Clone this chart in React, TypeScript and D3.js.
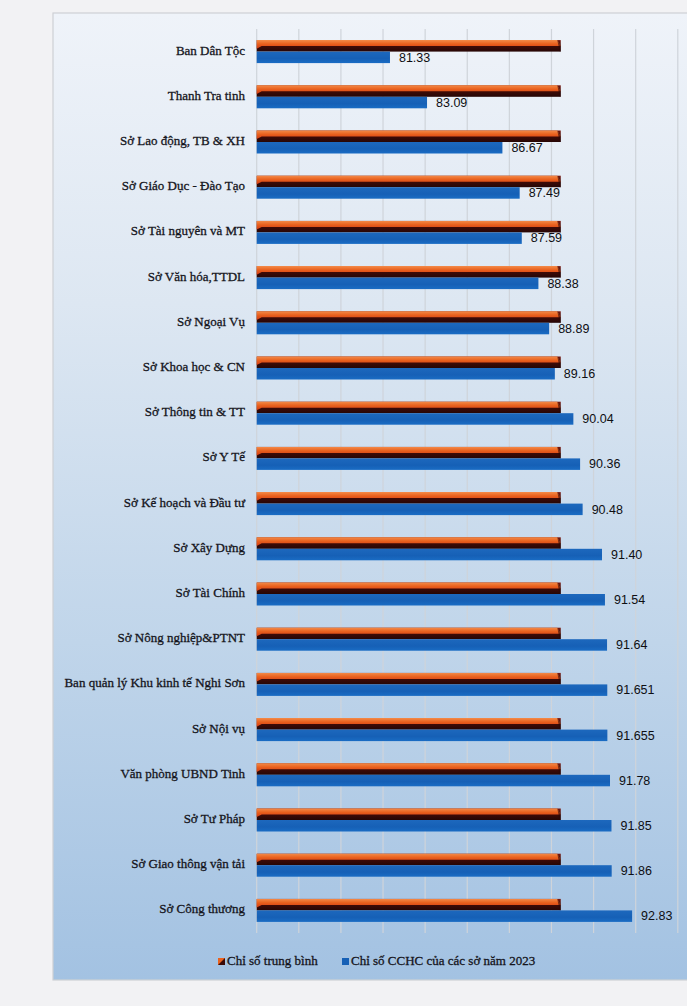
import React from "react";
import * as d3 from "d3";

const categories = [
  "Ban Dân Tộc",
  "Thanh Tra tinh",
  "Sở Lao động, TB & XH",
  "Sở Giáo Dục - Đào Tạo",
  "Sở Tài nguyên và MT",
  "Sở Văn hóa,TTDL",
  "Sở Ngoại Vụ",
  "Sở Khoa học & CN",
  "Sở Thông tin & TT",
  "Sở Y Tế",
  "Sở Kế hoạch và Đầu tư",
  "Sở Xây Dựng",
  "Sở Tài Chính",
  "Sở Nông nghiệp&PTNT",
  "Ban quản lý Khu kinh tế Nghi Sơn",
  "Sở Nội vụ",
  "Văn phòng UBND Tinh",
  "Sở Tư Pháp",
  "Sở Giao thông vận tải",
  "Sở Công thương",
];

const cchcValues = [
  81.33, 83.09, 86.67, 87.49, 87.59, 88.38, 88.89, 89.16, 90.04, 90.36,
  90.48, 91.4, 91.54, 91.64, 91.651, 91.655, 91.78, 91.85, 91.86, 92.83,
];

const averageValues = [
  89.44, 89.44, 89.44, 89.44, 89.44, 89.44, 89.44, 89.44, 89.44, 89.44,
  89.44, 89.44, 89.44, 89.44, 89.44, 89.44, 89.44, 89.44, 89.44, 89.44,
];

const seriesNames = ["Chỉ số trung bình", "Chỉ số CCHC của các sở năm 2023"];

const xDomain = [75, 95];
const xTickStep = 2;

const W = 687;
const H = 1006;

function fmt(v: number) {
  const c = v * 100;
  return Math.abs(Math.round(c) - c) < 1e-6 ? d3.format(".2f")(v) : d3.format(".3f")(v);
}

export default function App() {
  const x = d3.scaleLinear().domain(xDomain).range([256.7, 677.8]);
  const y = d3
    .scaleBand<string>()
    .domain(categories)
    .range([29, 933])
    .paddingInner(0.491)
    .paddingOuter(0.2455);
  const bw = y.bandwidth();
  const half = bw / 2;
  const ticks = d3.range(xDomain[0], xDomain[1] + 0.001, xTickStep);
  const x0 = x(xDomain[0]);
  const serif = "'Liberation Serif', 'Times New Roman', serif";

  return (
    <svg
      width={W}
      height={H}
      style={{ position: "absolute", left: 0, top: 0, background: "#f2f2f4" }}
    >
      <defs>
        <linearGradient id="bg" x1="0" y1="0" x2="0" y2="1">
          <stop offset="0" stopColor="#eff3f9" />
          <stop offset="0.3" stopColor="#dde7f2" />
          <stop offset="0.65" stopColor="#c0d5ea" />
          <stop offset="1" stopColor="#a3c2e2" />
        </linearGradient>
        <linearGradient id="orangeTop" x1="0" y1="0" x2="0" y2="1">
          <stop offset="0" stopColor="#f38a48" />
          <stop offset="0.45" stopColor="#e9601d" />
          <stop offset="1" stopColor="#d23b14" />
        </linearGradient>
        <linearGradient id="darkFront" x1="0" y1="0" x2="0" y2="1">
          <stop offset="0" stopColor="#7a1810" />
          <stop offset="0.45" stopColor="#420c08" />
          <stop offset="1" stopColor="#260605" />
        </linearGradient>
        <linearGradient id="blueBar" x1="0" y1="0" x2="0" y2="1">
          <stop offset="0" stopColor="#1d68bd" />
          <stop offset="0.6" stopColor="#1660b6" />
          <stop offset="1" stopColor="#1a6cc4" />
        </linearGradient>
      </defs>

      <rect x={0} y={0} width={W} height={H} fill="#f2f2f4" />
      <rect x={53} y={13} width={W - 53 + 2} height={967} fill="url(#bg)" stroke="#cdd0d4" strokeWidth={1.2} />

      {ticks.map((t) => (
        <line
          key={t}
          x1={x(t)}
          x2={x(t)}
          y1={29}
          y2={933}
          stroke="#cfd4da"
          strokeWidth={1.2}
        />
      ))}

      {categories.map((c, i) => {
        const top = y(c)!;
        const avgEnd = x(averageValues[i]);
        const blueEnd = x(cchcValues[i]);
        const ob = half * 0.52;
        return (
          <g key={c}>
            <rect x={x0} y={top} width={avgEnd - x0} height={half} fill="url(#darkFront)" />
            <polygon
              points={`${x0},${top} ${avgEnd - 3.5},${top} ${avgEnd},${top + ob} ${x0 + 5},${top + ob} ${x0},${top + half * 0.75}`}
              fill="url(#orangeTop)"
            />
            <polygon
              points={`${avgEnd - 3.5},${top} ${avgEnd},${top + ob} ${avgEnd},${top + half} ${avgEnd - 1},${top + half}`}
              fill="#2a0706"
              opacity={0.6}
            />
            <rect x={x0} y={top + half} width={blueEnd - x0} height={half} fill="url(#blueBar)" />
            <text
              x={blueEnd + 9}
              y={top + half + half / 2 + 1}
              dominantBaseline="middle"
              fontFamily="'Liberation Sans', Arial, sans-serif"
              fontSize={12.5}
              fill="#0e0e12"
            >
              {fmt(cchcValues[i])}
            </text>
            <text
              x={245}
              y={top + half}
              dominantBaseline="middle"
              textAnchor="end"
              fontFamily={serif}
              fontSize={13}
              fill="#15151c"
              stroke="#15151c"
              strokeWidth={0.3}
            >
              {c}
            </text>
          </g>
        );
      })}

      <g fontFamily={serif} fontSize={13} fill="#15151c" stroke="#15151c" strokeWidth={0.3}>
        <rect x={218} y={958} width={7} height={7} fill="#3a0a08" stroke="none" />
        <polygon points="218,958 225,958 218,965" fill="#e8621f" stroke="none" />
        <text x={227} y={962} dominantBaseline="middle">{seriesNames[0]}</text>
        <rect x={342} y={958} width={7} height={7} fill="#1660b6" stroke="none" />
        <text x={351} y={962} dominantBaseline="middle">{seriesNames[1]}</text>
      </g>
    </svg>
  );
}
